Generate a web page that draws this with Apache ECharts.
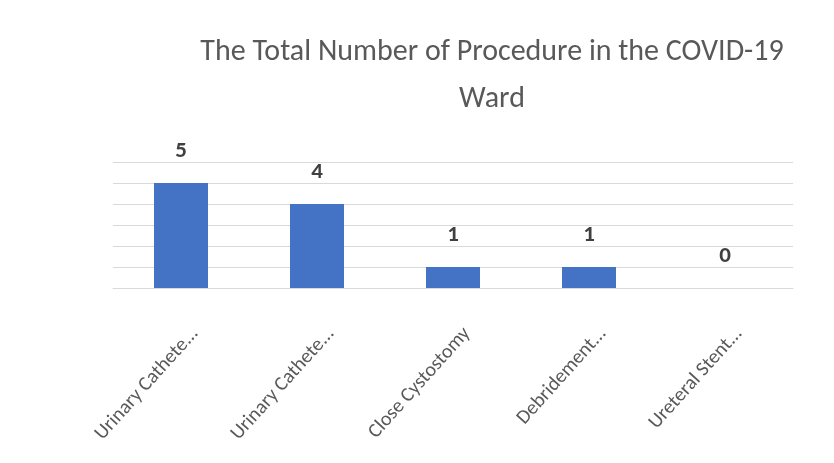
<!DOCTYPE html>
<html>
<head>
<meta charset="utf-8">
<script src="https://cdn.jsdelivr.net/npm/echarts@6/dist/echarts.min.js"></script>
<style>
  html, body { margin: 0; padding: 0; background: #fff; }
  #chart { width: 834px; height: 463px; }
</style>
</head>
<body>
<div id="chart"></div>
<script>
// data
const categories = [
  "Urinary Cathete...",
  "Urinary Cathete...",
  "Close Cystostomy",
  "Debridement...",
  "Ureteral Stent..."
];
const counts = [5, 4, 1, 1, 0];
const yTicks = [0, 6, 1]; // min, max, interval

const font = "Carlito, 'Liberation Sans Narrow', 'Open Sans', sans-serif";

const chart = echarts.init(document.getElementById("chart"));
chart.setOption({
  animation: false,
  title: {
    text: "The Total Number of Procedure in the COVID-19\nWard",
    left: 487,
    top: 24,
    textAlign: "center",
    textStyle: {
      fontFamily: font,
      fontSize: 30,
      fontWeight: "normal",
      color: "#595959",
      lineHeight: 47
    }
  },
  grid: { left: 113, right: 41, top: 162, bottom: 175 },
  xAxis: {
    type: "category",
    data: categories,
    axisLine: { lineStyle: { color: "#d9d9d9" } },
    axisTick: { show: false },
    axisLabel: {
      interval: 0,
      rotate: 48,
      margin: 58,
      padding: [0, -21, 0, 0],
      fontFamily: font,
      fontSize: 20,
      color: "#595959"
    }
  },
  yAxis: {
    type: "value",
    min: yTicks[0],
    max: yTicks[1],
    interval: yTicks[2],
    axisLine: { show: false },
    axisTick: { show: false },
    axisLabel: { show: false },
    splitLine: { lineStyle: { color: "#d9d9d9", width: 1 } }
  },
  series: [
    {
      type: "bar",
      data: counts,
      barWidth: 54,
      itemStyle: { color: "#4472c4" },
      label: {
        show: true,
        position: "top",
        distance: 20,
        fontFamily: font,
        fontSize: 23,
        fontWeight: "bold",
        color: "#404040"
      }
    }
  ]
});
</script>
</body>
</html>
